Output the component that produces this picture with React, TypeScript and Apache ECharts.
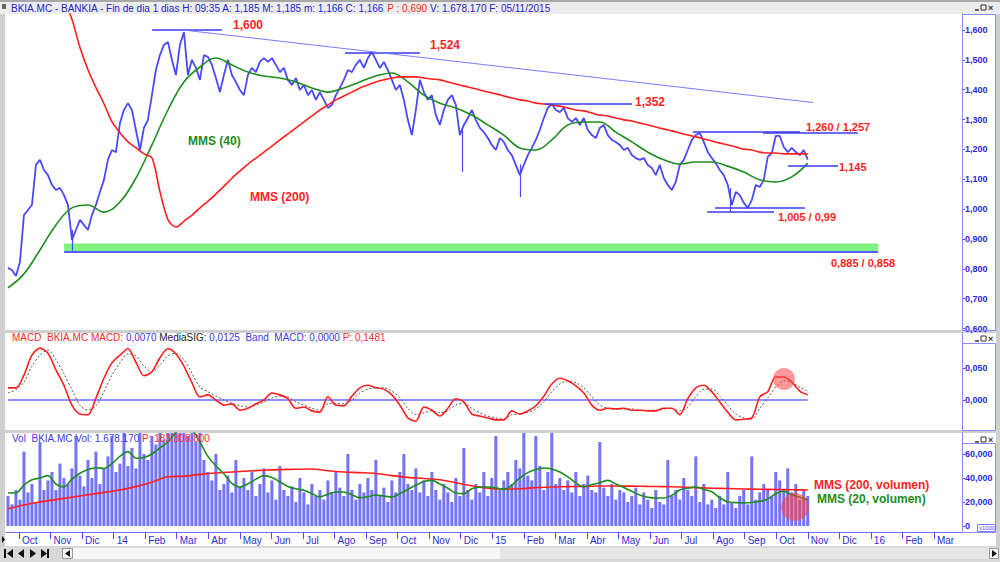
import React, { useEffect, useRef } from "react";
import * as echarts from "echarts";

// ---- time axis: months since 1 Oct 2013 ----
const MONTH_LABELS = ["Oct","Nov","Dic","14","Feb","Mar","Abr","May","Jun","Jul","Ago","Sep","Oct","Nov","Dic","15","Feb","Mar","Abr","May","Jun","Jul","Ago","Sep","Oct","Nov","Dic","16","Feb","Mar"];
const MONTH_TICKS = MONTH_LABELS.map((_, i) => i);
const PRICE_TICKS = [0.6, 0.7, 0.8, 0.9, 1.0, 1.1, 1.2, 1.3, 1.4, 1.5, 1.6];
const MACD_TICKS = [0, 0.05];
const VOL_TICKS = [0, 20, 40, 60];

const T_START = -0.35; // first session shown (~20 Sep 2013)
const T_END = 25.0; // last session (05/11/2015)
const MMS200_FROM = 1.43;

// closes (evenly spaced sessions from T_START to T_END)
const price = [
  0.803,0.796,0.776,0.823,0.980,0.997,1.014,1.148,1.165,1.131,
  1.114,1.081,1.064,1.071,1.047,1.014,0.897,0.930,0.964,0.947,
  0.930,0.980,1.014,1.057,1.098,1.165,1.198,1.191,1.288,1.332,
  1.355,1.332,1.265,1.198,1.272,1.299,1.382,1.466,1.516,1.550,
  1.560,1.500,1.449,1.550,1.593,1.449,1.500,1.473,1.433,1.516,
  1.510,1.483,1.439,1.392,1.449,1.500,1.449,1.426,1.399,1.382,
  1.449,1.473,1.459,1.493,1.506,1.493,1.506,1.483,1.459,1.473,
  1.433,1.416,1.439,1.399,1.416,1.382,1.399,1.366,1.392,1.366,
  1.339,1.349,1.382,1.406,1.433,1.466,1.459,1.483,1.500,1.473,
  1.506,1.526,1.500,1.473,1.493,1.466,1.433,1.399,1.416,1.366,
  1.299,1.248,1.332,1.433,1.392,1.366,1.382,1.315,1.282,1.332,
  1.366,1.382,1.349,1.248,1.282,1.305,1.332,1.299,1.272,1.258,
  1.238,1.215,1.198,1.238,1.225,1.198,1.181,1.148,1.114,1.148,
  1.181,1.205,1.232,1.265,1.305,1.339,1.352,1.332,1.325,1.339,
  1.305,1.292,1.305,1.282,1.305,1.265,1.248,1.238,1.272,1.282,
  1.248,1.232,1.225,1.215,1.198,1.205,1.181,1.171,1.165,1.171,
  1.148,1.138,1.114,1.148,1.104,1.081,1.064,1.091,1.148,1.165,
  1.198,1.232,1.248,1.255,1.225,1.191,1.171,1.154,1.131,1.114,
  1.081,1.014,1.057,1.047,1.021,1.004,1.030,1.081,1.074,1.098,
  1.175,1.188,1.245,1.245,1.208,1.191,1.205,1.191,1.181,1.198,
  1.166
];

// sessions with long intraday ranges: [month, low, high]
const wideBars = [
  [14.04, 1.124, 1.27],
  [15.88, 1.04, 1.15],
  [22.54, 0.99, 1.07],
  [1.68, 0.86, 0.93],
];

const mms40 = [
  0.736,0.783,0.863,0.947,1.004,1.014,0.990,1.024,1.104,1.215,
  1.332,1.426,1.476,1.506,1.483,1.459,1.446,1.439,1.426,1.406,
  1.392,1.406,1.426,1.446,1.456,1.426,1.382,1.355,1.339,1.315,
  1.282,1.248,1.205,1.198,1.232,1.282,1.292,1.292,1.258,1.225,
  1.191,1.165,1.151,1.158,1.158,1.144,1.124,1.098,1.091,1.108,
  1.154
];

const mms200 = [
  1.700,1.634,1.540,1.466,1.406,1.352,1.292,1.255,1.225,1.205,1.185,
  1.171,1.057,0.964,0.940,0.960,0.980,1.004,1.027,1.051,1.077,
  1.104,1.128,1.151,1.171,1.191,1.211,1.232,1.252,1.272,1.292,
  1.312,1.332,1.349,1.366,1.379,1.392,1.406,1.416,1.426,1.433,
  1.439,1.443,1.443,1.443,1.439,1.436,1.433,1.426,1.419,1.412,
  1.406,1.399,1.392,1.386,1.379,1.372,1.366,1.362,1.355,1.352,
  1.349,1.345,1.339,1.332,1.329,1.322,1.315,1.312,1.305,1.299,
  1.295,1.288,1.282,1.275,1.268,1.262,1.255,1.248,1.242,1.235,
  1.228,1.221,1.215,1.208,1.201,1.198,1.191,1.188,1.188,1.185,
  1.185,1.185,1.185
];

const macd = [
  0.019,0.019,0.039,0.070,0.081,0.073,0.047,0.023,-0.008,-0.022,
  -0.023,0.003,0.034,0.058,0.070,0.080,0.059,0.038,0.044,0.066,
  0.080,0.072,0.053,0.027,0.005,0.008,0.000,-0.008,-0.006,-0.016,
  -0.013,-0.006,0.000,0.011,0.008,0.002,-0.013,-0.011,-0.017,-0.019,
  0.005,-0.008,-0.009,0.006,0.019,0.023,0.019,0.017,0.008,-0.008,
  -0.028,-0.033,-0.011,-0.016,-0.025,-0.013,0.002,-0.003,-0.022,-0.025,
  -0.028,-0.031,-0.031,-0.017,-0.022,-0.017,-0.009,0.006,0.025,0.034,
  0.030,0.022,0.011,-0.008,-0.016,-0.013,-0.014,-0.013,-0.016,-0.016,
  -0.017,-0.017,-0.013,-0.013,-0.023,0.002,0.019,0.023,0.013,-0.003,
  -0.019,-0.031,-0.030,-0.028,0.005,0.013,0.036,0.036,0.028,0.014,
  0.008
];

const signal = [
  0.011,0.016,0.028,0.053,0.070,0.078,0.063,0.041,0.016,-0.008,
  -0.016,-0.009,0.013,0.039,0.058,0.072,0.069,0.053,0.044,0.055,
  0.069,0.073,0.063,0.042,0.020,0.013,0.006,0.000,-0.005,-0.009,
  -0.011,-0.008,-0.003,0.003,0.006,0.005,-0.003,-0.008,-0.013,-0.016,
  -0.006,-0.005,-0.006,0.000,0.011,0.017,0.019,0.019,0.014,0.003,
  -0.013,-0.023,-0.020,-0.017,-0.020,-0.017,-0.008,-0.005,-0.013,-0.020,
  -0.025,-0.028,-0.030,-0.023,-0.022,-0.019,-0.014,-0.003,0.013,0.025,
  0.030,0.027,0.019,0.005,-0.008,-0.013,-0.014,-0.014,-0.014,-0.016,
  -0.016,-0.016,-0.014,-0.013,-0.017,-0.011,0.005,0.017,0.017,0.006,
  -0.008,-0.022,-0.028,-0.030,-0.013,0.003,0.020,0.030,0.028,0.020,
  0.014
];

// volume in thousands
const volume = [
  25,18,30,22,62,28,35,20,70,30,
  38,45,30,52,40,35,48,75,42,33,
  55,40,62,35,48,58,75,45,52,80,
  50,65,48,80,60,55,75,68,80,72,
  80,85,78,80,90,75,82,70,80,55,
  45,38,60,30,35,42,28,55,33,40,
  30,45,25,35,48,28,38,22,50,30,
  25,33,20,40,28,18,35,25,30,22,
  38,28,45,32,25,60,30,22,35,28,
  40,30,55,25,32,20,38,28,45,60,
  35,30,48,28,38,25,45,30,22,35,
  28,20,40,25,65,30,22,35,28,45,
  25,40,75,30,38,45,35,55,48,80,
  42,38,75,50,30,45,80,35,40,30,
  38,28,45,25,35,42,30,28,70,32,
  25,35,22,30,28,20,25,32,18,28,
  22,15,30,20,18,55,25,30,22,40,
  30,25,58,20,35,18,22,15,25,18,
  45,20,15,25,30,18,58,22,28,35,
  30,25,45,38,30,48,28,35,22,30,
  25
];

const volMms200 = [
  14.3,17.5,20.0,22.0,24.0,26.0,28.0,30.0,32.8,36.5,
  41.0,41.5,43.0,44.2,45.0,45.8,46.5,47.0,47.3,47.5,
  46.0,45.0,44.5,43.8,42.0,40.5,39.6,38.5,36.0,33.5,
  31.5,30.8,31.0,32.0,32.5,32.8,33.0,33.3,33.3,33.2,
  33.0,32.8,32.5,32.0,31.5,31.2,30.8,30.6,30.4,30.2,
  30.0
];

const volMms20 = [
  27.5,27.5,34.0,38.5,40.0,42.0,35.0,32.5,39.0,44.0,
  47.0,48.5,48.0,52.0,58.0,62.0,56.5,57.0,60.0,65.0,
  70.0,78.0,82.0,80.0,70.0,58.0,50.0,43.5,35.5,32.5,
  35.0,39.0,42.0,40.5,36.7,33.0,31.0,29.8,27.0,24.2,
  26.5,28.3,28.3,26.0,23.5,24.5,25.8,25.0,24.2,27.0,
  30.5,34.0,37.0,38.0,35.0,31.5,27.5,27.0,31.0,32.5,
  32.5,31.8,30.5,34.0,40.0,44.5,47.0,48.3,47.5,45.0,
  41.0,36.0,32.5,34.5,36.0,38.0,35.0,32.0,29.0,25.8,
  24.0,23.3,23.3,25.5,30.0,31.5,32.5,30.5,28.5,23.5,
  20.0,19.5,19.2,19.6,20.5,22.5,27.0,29.0,26.0,24.0,
  21.7
];

// support / resistance levels: value, from, to (months)
const levels = [
  { v: 1.6, from: 4.22, to: 6.43 },
  { v: 1.524, from: 10.33, to: 12.71 },
  { v: 1.352, from: 16.67, to: 19.43 },
  { v: 1.26, from: 21.36, to: 24.75 },
  { v: 1.257, from: 23.58, to: 26.59 },
  { v: 1.145, from: 24.37, to: 25.96 },
  { v: 1.005, from: 22.06, to: 24.91 },
  { v: 0.99, from: 21.81, to: 23.93 },
];
const trendline = { from: [5.2, 1.6], to: [25.17, 1.357] };
const band = { from: 1.43, to: 27.23, low: 0.858, high: 0.885 };

const XMIN = -0.412;
const XMAX = 29.889;

function spread(values: number[], start: number, end: number) {
  const n = values.length;
  return values.map((v, i) => [start + ((end - start) * i) / (n - 1), v]);
}

const FONT = '"Liberation Sans", Arial, sans-serif';
const TXT_BLUE = "#2b2bd6";
const AX_BLUE = "#8a8aff";
const RED = "#ff1e1e";
const GREEN = "#1e8c1e";
const PRICE_BLUE = "#4a4af8";

function fmtComma(v: number, d: number) {
  return v.toFixed(d).replace(".", ",");
}

function winIcons(x: number, y: number) {
  return {
    type: "group",
    z: 20,
    children: [
      { type: "line", shape: { x1: x, y1: y + 5, x2: x + 4, y2: y + 5 }, style: { stroke: "#333", lineWidth: 1.5 } },
      { type: "rect", shape: { x: x + 6, y: y, width: 5, height: 5 }, style: { fill: "none", stroke: "#333", lineWidth: 1 } },
      { type: "text", x: x + 13, y: y - 2, style: { text: "×", fill: "#333", fontSize: 9, fontFamily: FONT, fontWeight: "bold" } },
    ],
  };
}

function label(text: string, x: number, y: number, color: string, size = 12) {
  return {
    type: "text",
    x,
    y,
    z: 30,
    style: { text, fill: color, fontSize: size, fontWeight: "bold", fontFamily: FONT, verticalAlign: "middle" },
  };
}

export default function App() {
  const ref = useRef<HTMLDivElement>(null);
  useEffect(() => {
    if (!ref.current) return;
    const chart = echarts.init(ref.current, null, { renderer: "svg" });

    const grids = [
      { left: 6, right: 38, top: 14, height: 316 },
      { left: 6, right: 38, top: 333, height: 97 },
      { left: 6, right: 38, top: 433, height: 99 },
    ].map((g) => ({ ...g, outerBoundsMode: "none", containLabel: false }));

    const xAxis = [0, 1, 2].map((i) => ({
      type: "value",
      gridIndex: i,
      min: XMIN,
      max: XMAX,
      axisLine: { show: i === 2, onZero: false, lineStyle: { color: "#6f6fff", width: 1 } },
      axisTick: { show: i === 2, customValues: MONTH_TICKS, length: 7, lineStyle: { color: "#4d4dff" } },
      axisLabel: {
        show: i === 2,
        customValues: MONTH_TICKS,
        formatter: (v: number) => MONTH_LABELS[Math.round(v)] ?? "",
        align: "left",
        padding: [0, 0, 0, 3],
        margin: 3,
        color: TXT_BLUE,
        fontSize: 10,
        fontFamily: FONT,
      },
      splitLine: { show: false },
    }));

    const yBase = (i: number, min: number, max: number, ticks: number[], fmt: (v: number) => string) => ({
      type: "value",
      gridIndex: i,
      position: "right",
      min,
      max,
      axisLine: { show: true, onZero: false, lineStyle: { color: AX_BLUE, width: 1 } },
      axisTick: { show: true, customValues: ticks, length: 3, lineStyle: { color: "#4d4dff" } },
      axisLabel: {
        customValues: ticks,
        formatter: fmt,
        margin: 3,
        color: TXT_BLUE,
        fontSize: 9,
        fontWeight: "bold",
        fontFamily: FONT,
      },
      splitLine: { show: false },
    });

    const yAxis = [
      yBase(0, 0.595, 1.6536, PRICE_TICKS, (v) => fmtComma(v, 3)),
      yBase(1, -0.0469, 0.1047, MACD_TICKS, (v) => fmtComma(v, 3)),
      yBase(2, -5, 77.5, VOL_TICKS, (v) => (v === 0 ? "0" : (v * 1000).toLocaleString("en-US"))),
    ];

    const seg = (x1: number, y1: number, x2: number, y2: number, lineStyle: any) => [
      { coord: [x1, y1], lineStyle },
      { coord: [x2, y2] },
    ];

    const series: any[] = [
      {
        name: "Precio",
        type: "line",
        xAxisIndex: 0,
        yAxisIndex: 0,
        data: spread(price, T_START, T_END),
        showSymbol: false,
        lineStyle: { color: PRICE_BLUE, width: 1.8 },
        z: 3,
        markArea: {
          silent: true,
          itemStyle: { color: "#7ff27f" },
          data: [[{ coord: [band.from, band.high] }, { coord: [band.to, band.low] }]],
        },
        markLine: {
          silent: true,
          symbol: "none",
          label: { show: false },
          data: [
            ...levels.map((l) => seg(l.from, l.v, l.to, l.v, { color: "#3a3af0", width: 1.5, type: "solid" })),
            seg(trendline.from[0], trendline.from[1], trendline.to[0], trendline.to[1], {
              color: "#7a7aff",
              width: 1,
              type: "solid",
            }),
            seg(band.from, band.low, band.to, band.low, { color: "#5a5aff", width: 2, type: "solid" }),
            ...wideBars.map((b) => seg(b[0], b[1], b[0], b[2], { color: PRICE_BLUE, width: 1.2, type: "solid" })),
          ],
        },
      },
      {
        name: "MMS (40)",
        type: "line",
        xAxisIndex: 0,
        yAxisIndex: 0,
        data: spread(mms40, T_START, T_END),
        smooth: 0.4,
        showSymbol: false,
        lineStyle: { color: GREEN, width: 1.6 },
        z: 4,
      },
      {
        name: "MMS (200)",
        type: "line",
        xAxisIndex: 0,
        yAxisIndex: 0,
        data: spread(mms200, MMS200_FROM, T_END),
        smooth: 0.3,
        showSymbol: false,
        lineStyle: { color: RED, width: 1.6 },
        z: 4,
      },
      {
        name: "Band",
        type: "line",
        xAxisIndex: 1,
        yAxisIndex: 1,
        data: [
          [T_START, 0],
          [T_END, 0],
        ],
        showSymbol: false,
        lineStyle: { color: "#6a6aff", width: 1.5 },
      },
      {
        name: "MediaSIG",
        type: "line",
        xAxisIndex: 1,
        yAxisIndex: 1,
        data: spread(signal, T_START, T_END),
        smooth: 0.3,
        showSymbol: false,
        lineStyle: { color: "#555", width: 1, type: [2, 2] },
      },
      {
        name: "MACD",
        type: "line",
        xAxisIndex: 1,
        yAxisIndex: 1,
        data: spread(macd, T_START, T_END),
        smooth: 0.3,
        showSymbol: false,
        lineStyle: { color: RED, width: 1.6 },
        z: 4,
      },
      {
        name: "Vol",
        type: "bar",
        xAxisIndex: 2,
        yAxisIndex: 2,
        data: spread(volume, T_START, T_END),
        barWidth: 3,
        itemStyle: { color: "#7474fa" },
      },
      {
        name: "MMS (200, volumen)",
        type: "line",
        xAxisIndex: 2,
        yAxisIndex: 2,
        data: spread(volMms200, T_START, T_END),
        smooth: 0.3,
        showSymbol: false,
        lineStyle: { color: RED, width: 1.6 },
        z: 4,
      },
      {
        name: "MMS (20, volumen)",
        type: "line",
        xAxisIndex: 2,
        yAxisIndex: 2,
        data: spread(volMms20, T_START, T_END),
        smooth: 0.3,
        showSymbol: false,
        lineStyle: { color: GREEN, width: 1.6 },
        z: 5,
      },
    ];

    const white = (x: number, y: number, w: number, h: number) => ({
      type: "rect",
      z: -10,
      shape: { x, y, width: w, height: h },
      style: { fill: "#ffffff" },
    });
    const box = (x: number, y: number, w: number, h: number) => ({
      type: "rect",
      z: 10,
      shape: { x: x + 0.5, y: y + 0.5, width: w, height: h },
      style: { fill: "none", stroke: AX_BLUE, lineWidth: 1 },
    });
    const tri = (pts: number[][]) => ({ type: "polygon", z: 20, shape: { points: pts }, style: { fill: "#111" } });

    const graphic: any[] = [
      // title bar
      { type: "rect", z: -10, shape: { x: 0, y: 0, width: 1000, height: 14 }, style: { fill: "#ececec" } },
      { type: "rect", z: -9, shape: { x: 0, y: 0, width: 1000, height: 2 }, style: { fill: "#a8a8a8" } },
      { type: "rect", z: 20, shape: { x: 2, y: 4, width: 4, height: 5 }, style: { fill: "#666" } },
      {
        type: "text",
        x: 11,
        y: 8,
        z: 20,
        style: {
          text: "{b|BKIA.MC - BANKIA - Fin de dia 1 dias H: 09:35 A: 1,185 M: 1,185 m: 1,166 C: 1,166 }{r|P : 0,690}{b| V: 1.678.170 F: 05/11/2015}",
          verticalAlign: "middle",
          rich: {
            b: { fill: "#2323d0", fontSize: 10, fontFamily: FONT },
            r: { fill: "#ff2a2a", fontSize: 10, fontFamily: FONT },
          },
        },
      },
      winIcons(975, 5),
      // panels
      white(5, 14, 991, 316),
      white(5, 333, 991, 97),
      white(5, 433, 991, 99),
      white(5, 532, 991, 14),
      box(962, 14, 33, 316),
      box(962, 343, 33, 87),
      box(962, 443, 33, 89),
      winIcons(975, 336),
      winIcons(975, 437),
      // x1000 box
      { type: "rect", z: 15, shape: { x: 977.5, y: 524.5, width: 18, height: 7 }, style: { fill: "#fff", stroke: "#7a7aff", lineWidth: 1 } },
      { type: "text", z: 16, x: 979, y: 528, style: { text: "x1000", fill: "#4a4aff", fontSize: 6, fontFamily: FONT, verticalAlign: "middle" } },
      // sub-panel headers
      {
        type: "text",
        x: 12,
        y: 337,
        z: 20,
        style: {
          text: "{r|MACD  BKIA.MC MACD: }{b|0,0070 }{k|MediaSIG: }{b|0,0125  Band  MACD: 0,0000 }{r|P: 0,1481}",
          verticalAlign: "middle",
          rich: {
            r: { fill: "#ff2a2a", fontSize: 10, fontFamily: FONT },
            b: { fill: "#3a3ae6", fontSize: 10, fontFamily: FONT },
            k: { fill: "#222", fontSize: 10, fontFamily: FONT },
          },
        },
      },
      {
        type: "text",
        x: 12,
        y: 438,
        z: 20,
        style: {
          text: "{b|Vol  BKIA.MC Vol: 1.678.170 }{r|P: 183.808.800}",
          verticalAlign: "middle",
          rich: {
            r: { fill: "#ff2a2a", fontSize: 10, fontFamily: FONT },
            b: { fill: "#3a3ae6", fontSize: 10, fontFamily: FONT },
          },
        },
      },
      // annotations
      label("1,600", 233, 25, RED),
      label("1,524", 430, 45, RED),
      label("1,352", 635, 102, RED),
      label("1,260 / 1,257", 806, 127, RED, 11),
      label("1,145", 839, 167, RED, 11),
      label("1,005 / 0,99", 778, 217, RED, 11),
      label("0,885 / 0,858", 831, 263, RED, 11),
      label("MMS (40)", 188, 141, GREEN, 12),
      label("MMS (200)", 250, 197, RED, 12),
      label("MMS (200, volumen)", 814, 485, RED, 12),
      label("MMS (20, volumen)", 817, 499, GREEN, 12),
      // highlight circles
      { type: "circle", z: 25, shape: { cx: 784, cy: 379, r: 11 }, style: { fill: "rgba(255,70,70,0.55)" } },
      { type: "circle", z: 25, shape: { cx: 795, cy: 507, r: 14 }, style: { fill: "rgba(255,60,60,0.55)" } },
      // scroll bar / navigation
      { type: "rect", z: -9, shape: { x: 0, y: 546, width: 1000, height: 16 }, style: { fill: "#d9d9d9" } },
      { type: "rect", z: -8, shape: { x: 73, y: 548, width: 427, height: 11 }, style: { fill: "#f7f7f7" } },
      { type: "rect", z: -8, shape: { x: 500, y: 548, width: 489, height: 11 }, style: { fill: "#e6e6e6" } },
      { type: "rect", z: -8, shape: { x: 62.5, y: 548.5, width: 10, height: 10 }, style: { fill: "#f2f2f2", stroke: "#999" } },
      tri([[70, 550], [70, 557], [65, 553.5]]),
      { type: "rect", z: -8, shape: { x: 989.5, y: 548.5, width: 9, height: 10 }, style: { fill: "#f2f2f2", stroke: "#999" } },
      tri([[992, 550], [992, 557], [997, 553.5]]),
      { type: "rect", z: 20, shape: { x: 4, y: 549, width: 2, height: 9 }, style: { fill: "#111" } },
      tri([[13, 549], [13, 558], [7, 553.5]]),
      tri([[24, 549], [24, 558], [18, 553.5]]),
      tri([[30, 549], [30, 558], [36, 553.5]]),
      tri([[41, 549], [41, 558], [47, 553.5]]),
      { type: "rect", z: 20, shape: { x: 47, y: 549, width: 2, height: 9 }, style: { fill: "#111" } },
      tri([[2, 536], [2, 543], [5, 539.5]]),
    ];

    chart.setOption({
      animation: false,
      backgroundColor: "#cfcfcf",
      grid: grids,
      xAxis,
      yAxis,
      series,
      graphic,
    });
    return () => chart.dispose();
  }, []);

  return <div ref={ref} style={{ position: "fixed", left: 0, top: 0, width: 1000, height: 562 }} />;
}
